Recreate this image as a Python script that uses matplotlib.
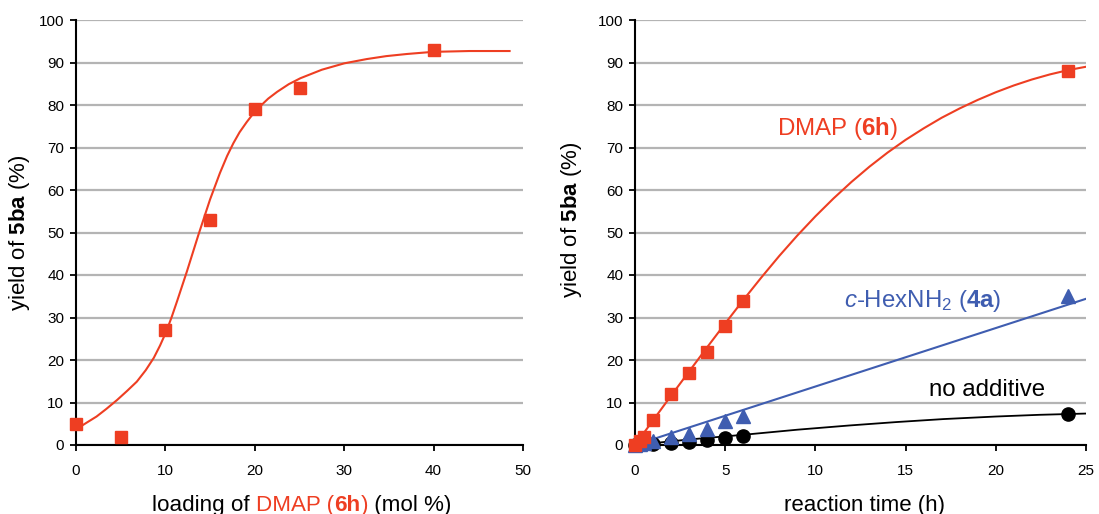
import numpy as np
import matplotlib
matplotlib.use("Agg")
import matplotlib.pyplot as plt

plt.rcParams['font.family'] = ['Liberation Sans', 'DejaVu Sans']
plt.rcParams['mathtext.fontset'] = 'custom'
plt.rcParams['mathtext.rm'] = 'Liberation Sans'
plt.rcParams['mathtext.it'] = 'Liberation Sans:italic'
plt.rcParams['mathtext.bf'] = 'Liberation Sans:bold'

RED = '#EE3E22'
BLUE = '#3F5DB0'
GRID = '#B4B4B4'

# --- left panel: yield vs DMAP loading ---
loading = [0, 5, 10, 15, 20, 25, 40]
yield_loading = [5, 2, 27, 53, 79, 84, 93]
# fitted curve
fit_loading_x = [0.4, 1.3, 2.3, 3.4, 4.6, 5.7, 6.8, 7.8, 8.7, 9.4, 10.1, 10.7,
                 11.3, 12.4, 13.7, 15.0, 16.1, 16.9, 17.6, 18.3, 19.1, 19.8,
                 20.6, 21.5, 22.5, 23.8, 25.1, 27.5, 30, 32.5, 34.7, 37, 39.9,
                 44, 48.5]
fit_loading_y = [4.2, 5.4, 6.7, 8.5, 10.6, 12.7, 14.9, 17.6, 20.5, 23.4, 26.7,
                 30.1, 33.8, 40.8, 49.5, 57.8, 64.0, 68.0, 71.0, 73.6, 76.0,
                 77.9, 79.7, 81.5, 83.1, 84.9, 86.3, 88.3, 89.8, 90.8, 91.5,
                 92.0, 92.5, 92.7, 92.7]

# --- right panel: yield vs time ---
t_dmap = [0, 0.25, 0.5, 1, 2, 3, 4, 5, 6, 24]
y_dmap = [0, 1, 2, 6, 12, 17, 22, 28, 34, 88]
fit_dmap_x = [0, 1, 2, 3, 4, 5, 6, 7, 8, 9, 10, 11, 12, 13, 14, 15, 16, 17,
              18, 19, 20, 21, 22, 23, 24, 25]
fit_dmap_y = [0, 5.8, 11.6, 17.3, 23.0, 28.6, 34.1, 39.4, 44.5, 49.3, 53.8,
              58.0, 61.9, 65.5, 68.8, 71.8, 74.5, 77.0, 79.2, 81.2, 83.0,
              84.6, 86.0, 87.2, 88.2, 89.0]

t_amine = [0, 0.25, 0.5, 1, 2, 3, 4, 5, 6, 24]
y_amine = [0, 0.3, 0.5, 1, 1.9, 2.7, 3.7, 5.6, 6.8, 35]
fit_amine_x = [0, 25]
fit_amine_y = [0, 34.4]

t_none = [0, 1, 2, 3, 4, 5, 6, 24]
y_none = [0, 0.2, 0.4, 0.8, 1.2, 1.6, 2.2, 7.4]
fit_none_x = [0, 3, 6, 9, 11.9, 14.5, 17.1, 20, 22.4, 25]
fit_none_y = [0, 1.3, 2.4, 3.6, 4.6, 5.4, 6.1, 6.7, 7.1, 7.4]

fig = plt.figure(figsize=(10.99, 5.14), dpi=100)
W, H = 1099, 514
ax1 = fig.add_axes([76 / W, (H - 445) / H, 447 / W, 425 / H])
ax2 = fig.add_axes([635 / W, (H - 445) / H, 451 / W, 425 / H])


def style(ax, xmax, xstep):
    ax.set_xlim(0, xmax)
    ax.set_ylim(0, 100)
    ax.set_xticks(np.arange(0, xmax + 1, xstep))
    ax.set_yticks(np.arange(0, 101, 10))
    ax.yaxis.grid(True, color=GRID, lw=1.6)
    ax.set_axisbelow(True)
    for s in ['top', 'right']:
        ax.spines[s].set_visible(False)
    for s in ['left', 'bottom']:
        ax.spines[s].set_linewidth(1.5)
    ax.tick_params(direction='out', length=4.5, width=1.3, labelsize=11,
                   pad=4, colors='black')
    ax.tick_params(axis='x', pad=9)
    ax.set_ylabel(r'yield of $\mathbf{5ba}$ (%)', fontsize=16, va='center')


style(ax1, 50, 10)
ax1.yaxis.set_label_coords((20 - 76) / 447, (445 - 233) / 425)
ax1.plot(fit_loading_x, fit_loading_y, color=RED, lw=1.5, zorder=3)
ax1.plot(loading, yield_loading, 's', color=RED, ms=8.6, clip_on=False, zorder=4)

style(ax2, 25, 5)
ax2.yaxis.set_label_coords((572 - 635) / 451, (445 - 220) / 425)
ax2.plot(fit_dmap_x, fit_dmap_y, color=RED, lw=1.5, zorder=3)
ax2.plot(fit_amine_x, fit_amine_y, color=BLUE, lw=1.5, zorder=3)
ax2.plot(fit_none_x, fit_none_y, color='black', lw=1.3, zorder=3)
ax2.plot(t_none, y_none, 'o', color='black', ms=9.5, clip_on=False, zorder=4)
ax2.plot(t_amine, y_amine, '^', color=BLUE, ms=10, clip_on=False, zorder=5)
ax2.plot(t_dmap, y_dmap, 's', color=RED, ms=9, clip_on=False, zorder=6)

ax2.text(7.87, 72.9, r'DMAP ($\mathbf{6h}$)', color=RED, fontsize=17.3,
         va='baseline')
ax2.text(11.6, 32.5, r'$\mathit{c}$-HexNH$_2$ ($\mathbf{4a}$)', color=BLUE,
         fontsize=17.3, va='baseline')
ax2.text(16.3, 11.5, 'no additive', color='black', fontsize=17.3,
         va='baseline')
ax2.set_xlabel('reaction time (h)', fontsize=16, va='baseline')
ax2.xaxis.set_label_coords((865 - 635) / 451, -(511 - 445) / 425)

# multi-coloured x label for the left panel
pieces = [('loading of ', 'black', 'normal'), ('DMAP (', RED, 'normal'),
          ('6h', RED, 'bold'), (')', RED, 'normal'), (' (mol %)', 'black', 'normal')]
renderer = fig.canvas.get_renderer()
texts = []
for s, c, w in pieces:
    texts.append(fig.text(0, 0, s, color=c, fontweight=w, fontsize=16.1,
                          va='baseline', ha='left'))
widths = [t.get_window_extent(renderer).width for t in texts]
total = sum(widths)
x0 = 302 - total / 2
for t, w in zip(texts, widths):
    t.set_position((x0 / W, (H - 511) / H))
    x0 += w

fig.savefig('out.png', dpi=100)
